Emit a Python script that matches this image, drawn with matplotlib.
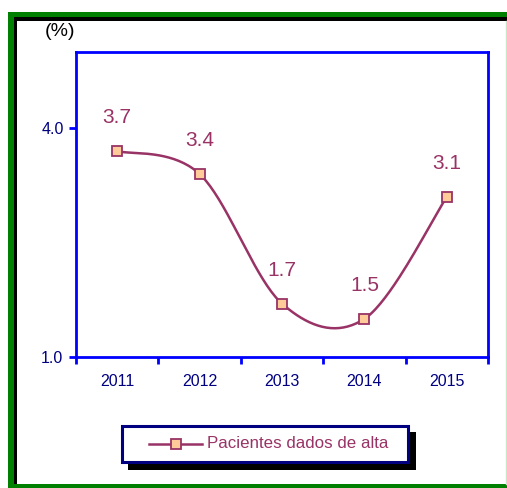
import matplotlib
matplotlib.use("Agg")
import matplotlib.pyplot as plt
import numpy as np
from matplotlib.patches import Rectangle
from matplotlib.lines import Line2D

years = ["2011", "2012", "2013", "2014", "2015"]
valores = [3.7, 3.4, 1.7, 1.5, 3.1]
etiquetas = ["3.7", "3.4", "1.7", "1.5", "3.1"]
serie = "Pacientes dados de alta"

plt.rcParams['font.family'] = ['Liberation Sans', 'DejaVu Sans']

W, H = 507, 488
color_linea = '#993366'
color_marca = '#FFCC99'
azul = '#0000FF'
navy = '#000080'


# Curva suavizada tipo Excel (Catmull-Rom parametrica)
def suavizar(x, y, n=40):
    p = np.column_stack([x, y]).astype(float)
    pts = np.vstack([p[0], p, p[-1]])
    out = []
    for i in range(1, len(pts) - 2):
        p0, p1, p2, p3 = pts[i - 1], pts[i], pts[i + 1], pts[i + 2]
        m1 = (p2 - p0) / 2
        m2 = (p3 - p1) / 2
        t = np.linspace(0, 1, n)[:, None]
        h00 = 2*t**3 - 3*t**2 + 1
        h10 = t**3 - 2*t**2 + t
        h01 = -2*t**3 + 3*t**2
        h11 = t**3 - t**2
        out.append(h00*p1 + h10*m1 + h01*p2 + h11*m2)
    c = np.vstack(out)
    return c[:, 0], c[:, 1]


def fx(px):
    return px / W


def fy(py):
    return 1 - py / H


fig = plt.figure(figsize=(W / 100, H / 100), dpi=100)

# marco verde / negro
fig.add_artist(Rectangle((fx(8), fy(488)), fx(507) - fx(8), fy(12) - fy(488),
                         transform=fig.transFigure, facecolor='#008000', edgecolor='none', zorder=0))
fig.add_artist(Rectangle((fx(14), fy(484)), fx(507) - fx(14), fy(17) - fy(484),
                         transform=fig.transFigure, facecolor='black', edgecolor='none', zorder=0))
fig.add_artist(Rectangle((fx(17), fy(484)), fx(507) - fx(17), fy(21) - fy(484),
                         transform=fig.transFigure, facecolor='white', edgecolor='none', zorder=0))
fig.add_artist(Line2D([fx(505.5), fx(505.5)], [fy(484), fy(21)], transform=fig.transFigure,
                      color='#C8E6C8', lw=1, zorder=0))

ax = fig.add_axes([fx(76), fy(357), fx(488) - fx(76), fy(52) - fy(357)])
ax.set_facecolor('none')

x = np.arange(len(years))
xs, ys = suavizar(x, valores)
ax.plot(xs, ys, color=color_linea, lw=1.8, zorder=3)
ax.plot(x, valores, ls='none', marker='s', ms=7, mfc=color_marca, mec=color_linea, mew=1.3, zorder=4)

for xi, v, lab in zip(x, valores, etiquetas):
    ax.annotate(lab, (xi, v), xytext=(0, 24), textcoords='offset points',
                ha='center', va='center', fontsize=15, color=color_linea)

ax.set_xlim(-0.5, 4.5)
ax.set_ylim(1.0, 5.0)
ax.set_yticks([1.0, 4.0])
ax.set_yticklabels(["1.0", "4.0"])
ax.set_xticks(x)
ax.set_xticklabels(years)
ax.set_xticks(np.arange(-0.5, 4.6, 1), minor=True)
ax.tick_params(axis='x', which='major', length=0, pad=12, labelsize=11.5, labelcolor=navy)
ax.tick_params(axis='x', which='minor', length=5, width=2, color=azul, direction='out')
ax.tick_params(axis='y', length=5, width=2, color=azul, labelsize=11.5, labelcolor=navy, pad=4)
for s in ax.spines.values():
    s.set_color(azul)
    s.set_linewidth(2)

fig.text(fx(60), fy(32), "(%)", ha='center', va='center', fontsize=14, color='black')

# leyenda manual con sombra
fig.add_artist(Rectangle((fx(128), fy(470)), fx(416) - fx(128), fy(432) - fy(470),
                         transform=fig.transFigure, facecolor='black', edgecolor='none', zorder=5))
fig.add_artist(Rectangle((fx(122), fy(462)), fx(408) - fx(122), fy(426) - fy(462),
                         transform=fig.transFigure, facecolor='white', edgecolor=navy, lw=2.2, zorder=6))
fig.add_artist(Line2D([fx(149), fx(202)], [fy(444), fy(444)], transform=fig.transFigure,
                      color=color_linea, lw=1.8, zorder=7))
fig.add_artist(Line2D([fx(176)], [fy(444)], transform=fig.transFigure, ls='none', marker='s', ms=7,
                      mfc=color_marca, mec=color_linea, mew=1.3, zorder=8))
fig.text(fx(207), fy(444), serie, ha='left', va='center', fontsize=12.2, color=color_linea, zorder=9)

fig.savefig("out.png", dpi=100)
